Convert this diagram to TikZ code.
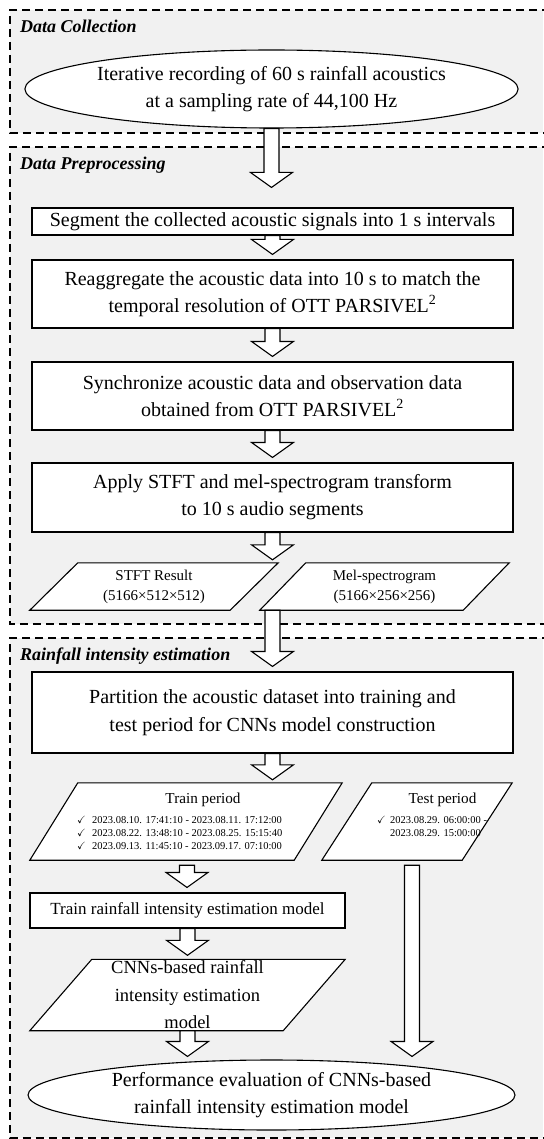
\documentclass[tikz,border=0pt]{standalone}
\usepackage{fontspec}
\setmainfont{Liberation Serif}
\usepackage{amssymb}
\usetikzlibrary{shapes.geometric,calc}

\definecolor{panelgray}{RGB}{241,241,241}

\pgfdeclarelayer{panel}
\pgfdeclarelayer{shape}
\pgfsetlayers{panel,shape,main}

\tikzset{
  panelline/.style={line width=1.4pt, dash pattern=on 8pt off 5pt},
  stagetitle/.style={anchor=base west, inner sep=0pt,
    font=\fontsize{18}{22}\selectfont\bfseries\itshape},
  procbox/.style={draw, fill=white, line width=1.1pt, minimum width=481pt,
    inner sep=0pt, align=center, font=\fontsize{20}{27}\selectfont},
  oval/.style={ellipse, draw, fill=white, line width=1.1pt, inner sep=0pt,
    align=center, font=\fontsize{20}{27}\selectfont},
  slot/.style={inner sep=0pt, align=center},
  slantshape/.style={draw, fill=white, line width=1.1pt, line join=miter},
  blockarrow/.style={draw, fill=white, line width=1.1pt, line join=miter},
  datefont/.style={anchor=base west, inner sep=0pt, font=\fontsize{10.5}{13}\selectfont},
  periodfont/.style={anchor=base, inner sep=0pt, font=\fontsize{15.2}{18}\selectfont}
}

% hollow block arrow pointing down, from #1 to #2
\newcommand\flowarrow[2]{%
  \draw[blockarrow] let \p1=(#1), \p2=(#2) in
    (\x1-7.5pt,\y1) -- (\x1-7.5pt,\y2+15pt) -- (\x1-21pt,\y2+15pt) -- (\x1,\y2)
    -- (\x1+21pt,\y2+15pt) -- (\x1+7.5pt,\y2+15pt) -- (\x1+7.5pt,\y1) -- cycle;}

% parallelogram behind a data node (#1 = node, #2 = half slant)
\newcommand\slantframe[2]{%
  \begin{pgfonlayer}{shape}
    \draw[slantshape] ([xshift=-#2]#1.south west) -- ([xshift=#2]#1.north west)
      -- ([xshift=#2]#1.north east) -- ([xshift=-#2]#1.south east) -- cycle;
  \end{pgfonlayer}}

\begin{document}
\begin{tikzpicture}[x=1pt, y=-1pt]
\useasboundingbox (0,0) rectangle (543,1139);

% stage panels (open on the right)
\begin{pgfonlayer}{panel}
  \fill[white] (0,0) rectangle (543,1139);
  \fill[panelgray] (10,10) rectangle (543,133);
  \draw[panelline] (550,10) -- (10,10) -- (10,133) -- (550,133);
  \fill[panelgray] (10,147) rectangle (543,624);
  \draw[panelline] (550,147) -- (10,147) -- (10,624) -- (550,624);
  \fill[panelgray] (10,638) rectangle (543,1138);
  \draw[panelline] (550,638) -- (10,638) -- (10,1138) -- (550,1138);
\end{pgfonlayer}

\node[stagetitle] (st1) at (20,33) {Data Collection};
\node[stagetitle] (st2) at (20,170) {Data Preprocessing};
\node[stagetitle] (st3) at (20,660) {Rainfall intensity estimation};

% Data collection
\node[oval, minimum width=487pt, minimum height=78pt] (rec) at (271.5,89)
  {Iterative recording of 60 s rainfall acoustics\\at a sampling rate of 44,100 Hz};

% Data preprocessing
\node[procbox, minimum height=27pt] (seg) at (272.5,221.5)
  {Segment the collected acoustic signals into 1 s intervals};
\node[procbox, minimum height=68pt] (reagg) at (272.5,294)
  {Reaggregate the acoustic data into 10 s to match the\\temporal resolution of OTT PARSIVEL\textsuperscript{2}};
\node[procbox, minimum height=68pt] (sync) at (272.5,396)
  {Synchronize acoustic data and observation data\\obtained from OTT PARSIVEL\textsuperscript{2}};
\node[procbox, minimum height=69pt] (tf) at (272.5,497.5)
  {Apply STFT and mel-spectrogram transform\\to 10 s audio segments};
\node[slot, minimum width=200pt, minimum height=47pt, font=\fontsize{15}{20}\selectfont]
  (stft) at (154,586.5) {STFT Result\\(5166×512×512)};
\node[slot, minimum width=203pt, minimum height=47pt, font=\fontsize{15}{20}\selectfont]
  (mel) at (384.5,586.5) {Mel-spectrogram\\(5166×256×256)};
\slantframe{stft}{24pt}
\slantframe{mel}{23pt}

% Rainfall intensity estimation
\node[procbox, minimum height=81pt, font=\fontsize{20}{28}\selectfont] (part) at (272.5,712.5)
  {Partition the acoustic dataset into training and\\test period for CNNs model construction};

\node[slot, minimum width=264pt, minimum height=77pt] (train) at (186,821.5) {};
\slantframe{train}{24pt}
\node[periodfont] (trainT) at (203,803) {Train period};
\node[datefont] (trainA) at (77,823) {\makebox[15pt][l]{$\checkmark$}2023.08.10. 17:41:10 - 2023.08.11. 17:12:00};
\node[datefont] (trainB) at (77,836.3) {\makebox[15pt][l]{$\checkmark$}2023.08.22. 13:48:10 - 2023.08.25. 15:15:40};
\node[datefont] (trainC) at (77,849.6) {\makebox[15pt][l]{$\checkmark$}2023.09.13. 11:45:10 - 2023.09.17. 07:10:00};

\node[slot, minimum width=140pt, minimum height=77pt] (test) at (417,821.5) {};
\slantframe{test}{25pt}
\node[periodfont] (testT) at (442.5,803) {Test period};
\node[datefont] (testA) at (377,823) {\makebox[13pt][l]{$\checkmark$}2023.08.29. 06:00:00 -};
\node[datefont] (testB) at (390,836.3) {2023.08.29. 15:00:00};

\node[procbox, minimum width=315pt, minimum height=35pt, font=\fontsize{17}{20}\selectfont]
  (trainmod) at (187.5,910.5) {Train rainfall intensity estimation model};
\node[slot, minimum width=253pt, minimum height=71pt, font=\fontsize{18.5}{27.5}\selectfont]
  (cnn) at (187.5,995) {CNNs-based rainfall\\intensity estimation\\model};
\slantframe{cnn}{31pt}

\node[oval, minimum width=487pt, minimum height=70pt] (perf) at (271.5,1095)
  {Performance evaluation of CNNs-based\\rainfall intensity estimation model};

% flow
\flowarrow{rec.south}{$(seg.north)+(0,-20)$}
\flowarrow{seg.south}{$(reagg.north)+(0,-5)$}
\flowarrow{reagg.south}{$(sync.north)+(0,-5)$}
\flowarrow{sync.south}{$(tf.north)+(0,-5)$}
\flowarrow{tf.south}{$(tf.south |- stft.north)+(0,-3)$}
\flowarrow{tf.south |- stft.south}{$(part.north)+(0,-5)$}
\flowarrow{part.south}{$(part.south |- train.north)+(0,-3)$}
\flowarrow{$(train.south)+(1,5)$}{$(trainmod.north)+(1,-5)$}
\flowarrow{trainmod.south}{$(trainmod.south |- cnn.north)+(0,-4)$}
\flowarrow{cnn.south}{$(cnn.south |- perf.north)+(0,-3)$}
\flowarrow{$(test.south)+(-5,5)$}{$(test.south |- perf.north)+(-5,-3)$}
\end{tikzpicture}
\end{document}
